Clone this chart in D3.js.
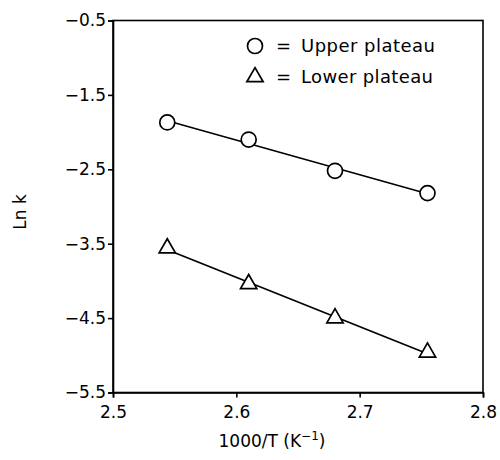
<!DOCTYPE html>
<html>
<head>
<meta charset="utf-8">
<script src="https://cdn.jsdelivr.net/npm/d3@7"></script>
<style>
	body { margin: 0; background: #fff; }
	text { font-family: "DejaVu Sans", sans-serif; fill: #000; }
</style>
</head>
<body>
<svg id="chart" width="500" height="460"></svg>
<script>
// data
const inv_t = [2.544, 2.61, 2.68, 2.755];
const upper_lnk = [-1.87, -2.1, -2.52, -2.82];
const lower_lnk = [-3.56, -4.04, -4.5, -4.96];
const x_ticks = [2.5, 2.6, 2.7, 2.8];
const y_ticks = [-0.5, -1.5, -2.5, -3.5, -4.5, -5.5];

const svg = d3.select("#chart");
const left = 113;
const right = 483;
const top_y = 20.5;
const bottom = 392.5;

const x = d3.scaleLinear().domain([2.5, 2.8]).range([left, right]);
const y = d3.scaleLinear().domain([-5.5, -0.5]).range([bottom, top_y]);

// least squares line through a series
function fit(xs, ys) {
	const mx = d3.mean(xs);
	const my = d3.mean(ys);
	let sxy = 0;
	let sxx = 0;
	for (let i = 0; i < xs.length; i++) {
		sxy += (xs[i] - mx) * (ys[i] - my);
		sxx += (xs[i] - mx) * (xs[i] - mx);
	}
	const b = sxy / sxx;
	const a = my - b * mx;
	const x0 = d3.min(xs);
	const x1 = d3.max(xs);
	return [[x0, a + b * x0], [x1, a + b * x1]];
}

// frame
svg.append("rect")
	.attr("x", left)
	.attr("y", top_y)
	.attr("width", right - left)
	.attr("height", bottom - top_y)
	.attr("fill", "none")
	.attr("stroke", "#000")
	.attr("stroke-width", 1.6);

const x_axis = svg.append("g")
	.attr("transform", `translate(0,${bottom})`)
	.call(d3.axisBottom(x).tickValues(x_ticks).tickSize(5).tickPadding(8).tickFormat(d3.format(".1f")));
const y_axis = svg.append("g")
	.attr("transform", `translate(${left},0)`)
	.call(d3.axisLeft(y).tickValues(y_ticks).tickSize(5).tickPadding(2).tickFormat((d) => d3.format(".1f")(d).replace("-", "\u2212")));

[x_axis, y_axis].forEach((g) => {
	g.select(".domain").attr("stroke-width", 1.6);
	g.selectAll(".tick line").attr("stroke-width", 1.6);
	g.selectAll(".tick text").attr("font-size", 17).attr("font-family", "DejaVu Sans, sans-serif");
});

// fitted lines
const line = d3.line().x((d) => x(d[0])).y((d) => y(d[1]));
[upper_lnk, lower_lnk].forEach((ys) => {
	svg.append("path")
		.attr("d", line(fit(inv_t, ys)))
		.attr("fill", "none")
		.attr("stroke", "#000")
		.attr("stroke-width", 1.7);
});

// markers
svg.append("g")
	.selectAll("circle")
	.data(inv_t.map((v, i) => [v, upper_lnk[i]]))
	.join("circle")
	.attr("cx", (d) => x(d[0]))
	.attr("cy", (d) => y(d[1]))
	.attr("r", 7.5)
	.attr("fill", "#fff")
	.attr("stroke", "#000")
	.attr("stroke-width", 1.7);

const tri = d3.symbol().type(d3.symbolTriangle).size(115);
svg.append("g")
	.selectAll("path")
	.data(inv_t.map((v, i) => [v, lower_lnk[i]]))
	.join("path")
	.attr("d", tri)
	.attr("transform", (d) => `translate(${x(d[0])},${y(d[1])})`)
	.attr("fill", "#fff")
	.attr("stroke", "#000")
	.attr("stroke-width", 1.7);

// legend
svg.append("circle")
	.attr("cx", 255).attr("cy", 46).attr("r", 7.5)
	.attr("fill", "#fff").attr("stroke", "#000").attr("stroke-width", 1.7);
svg.append("path")
	.attr("d", tri)
	.attr("transform", "translate(255,77)")
	.attr("fill", "#fff").attr("stroke", "#000").attr("stroke-width", 1.7);
const legend_labels = ["Upper plateau", "Lower plateau"];
legend_labels.forEach((t, i) => {
	svg.append("text").attr("x", 276).attr("y", 52 + i * 31).attr("font-size", 18).text("=");
	svg.append("text").attr("x", 301).attr("y", 52 + i * 31).attr("font-size", 18)
		.attr("textLength", t === "Upper plateau" ? 134 : 132).text(t);
});

// axis titles
svg.append("text")
	.attr("transform", "translate(26,212) rotate(-90)")
	.attr("text-anchor", "middle")
	.attr("font-size", 17)
	.text("Ln k");

const xt = svg.append("text")
	.attr("x", 272)
	.attr("y", 447)
	.attr("text-anchor", "middle")
	.attr("font-size", 17);
xt.append("tspan").text("1000/T (K");
xt.append("tspan").attr("font-size", 12).attr("dy", -7).text("\u22121");
xt.append("tspan").attr("dy", 7).text(")");
</script>
</body>
</html>
